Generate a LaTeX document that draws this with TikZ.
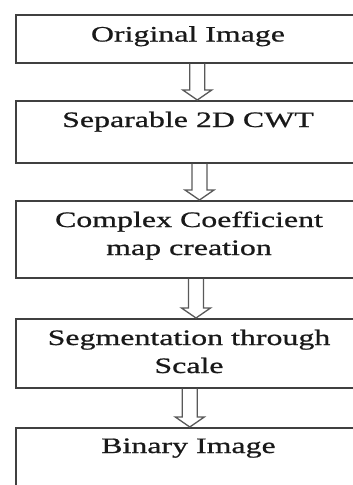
\documentclass[tikz,border=0pt]{standalone}
\usepackage{fontspec}
\setmainfont{Liberation Serif}[FakeStretch=1.45,FakeBold=0.8]
\usetikzlibrary{calc}

\tikzset{
  stage/.style={draw=black!75, line width=1.5pt, rectangle, inner sep=0pt,
                minimum width=346pt, anchor=north west},
  caption/.style={font=\fontsize{22}{28}\selectfont, align=center,
                  anchor=base, inner sep=0pt, text=black!90},
  arrowline/.style={draw=black!65, line width=1.3pt, line join=miter}
}

% hollow block arrow from the bottom of #1 to the top of #2, centred at x=#3
\newcommand\blockarrow[3]{%
  \path (#3,0 |- #1.south) coordinate (s) (#3,0 |- #2.north) coordinate (t);
  \draw[arrowline]
    ([xshift=-7.5pt]s) -- ([xshift=-7.5pt,yshift=10pt]t)
    -- ([xshift=-14.5pt,yshift=10pt]t) -- (t)
    -- ([xshift=14.5pt,yshift=10pt]t) -- ([xshift=7.5pt,yshift=10pt]t)
    -- ([xshift=7.5pt]s);}

\begin{document}
\begin{tikzpicture}[x=1pt,y=-1pt]
  \useasboundingbox (0,0) rectangle (353,485);
  \clip (0,0) rectangle (353,485);

  % stage boxes
  \node[stage, minimum height=48pt] (b1) at (15,14)  {};
  \node[stage, minimum height=62pt] (b2) at (15,100) {};
  \node[stage, minimum height=77pt] (b3) at (15,200) {};
  \node[stage, minimum height=69pt] (b4) at (15,318) {};
  \node[stage, minimum height=90pt] (b5) at (15,427) {};

  % captions, top-aligned in each box (base = baseline of the last line)
  \node[caption] (t1) at ([yshift=-27.5pt]b1.north -| 188,0) {Original Image};
  \node[caption] (t2) at ([yshift=-27pt]b2.north -| 188,0) {Separable 2D CWT};
  \node[caption] (t3) at ([yshift=-55pt]b3.north -| 189,0) {Complex Coefficient\\map creation};
  \node[caption] (t4) at ([yshift=-55pt]b4.north -| 189,0) {Segmentation through\\Scale};
  \node[caption] (t5) at ([yshift=-26pt]b5.north -| 188.5,0) {Binary Image};

  % arrows between stages
  \blockarrow{b1}{b2}{197.3}
  \blockarrow{b2}{b3}{199.5}
  \blockarrow{b3}{b4}{196}
  \blockarrow{b4}{b5}{189.8}
\end{tikzpicture}
\end{document}
